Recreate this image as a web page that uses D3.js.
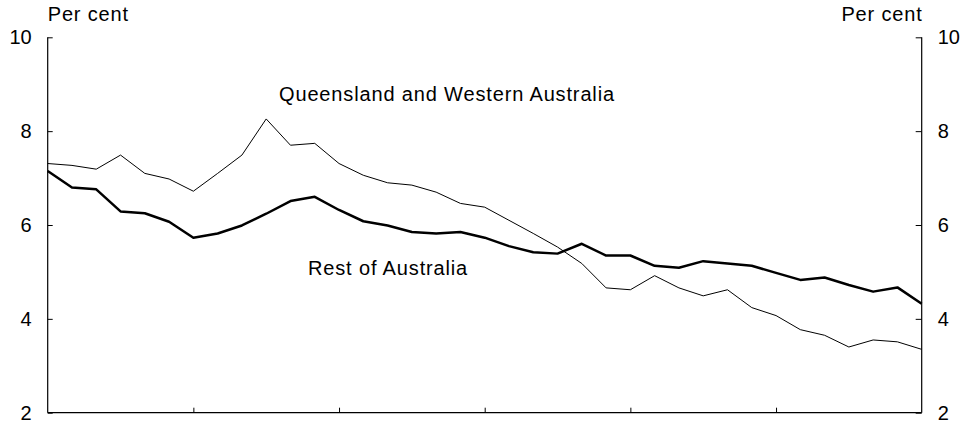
<!DOCTYPE html>
<html>
<head>
<meta charset="utf-8">
<script src="https://cdn.jsdelivr.net/npm/d3@7/dist/d3.min.js"></script>
<style>
  html, body { margin: 0; padding: 0; background: #fff; }
  svg { display: block; }
  text { font-family: "Liberation Sans", Arial, sans-serif; font-size: 20px; fill: #000; letter-spacing: 0.85px; }
  .tick text { letter-spacing: 0px; }
</style>
</head>
<body>
<svg id="chart" width="965" height="425"></svg>
<script>
// Data
const qldWa = [7.31,7.27,7.19,7.49,7.10,6.98,6.72,7.10,7.49,8.26,7.70,7.74,7.31,7.06,6.90,6.85,6.70,6.46,6.38,6.10,5.82,5.53,5.18,4.66,4.62,4.92,4.66,4.49,4.62,4.24,4.07,3.77,3.65,3.40,3.55,3.51,3.35];
const restAus = [7.15,6.80,6.76,6.29,6.25,6.07,5.73,5.82,5.99,6.24,6.51,6.60,6.32,6.08,5.99,5.85,5.82,5.85,5.73,5.55,5.42,5.39,5.60,5.35,5.35,5.13,5.09,5.23,5.18,5.13,4.98,4.83,4.88,4.72,4.58,4.67,4.32];
const periods = d3.range(qldWa.length);
const xTickValues = [6, 12, 18, 24, 30];
const yTickValues = [2, 4, 6, 8, 10];
const seriesNames = ["Queensland and Western Australia", "Rest of Australia"];
const unitLabel = "Per cent";

const svg = d3.select("#chart");
const pL = 47.7, pR = 921.7, pT = 37.3, pB = 412.7;

const x = d3.scaleLinear().domain([0, periods.length - 1]).range([pL, pR]);
const y = d3.scaleLinear().domain([2, 10]).range([pB, pT]);

// Axes
const gL = svg.append("g").attr("transform", `translate(${pL},0)`)
  .call(d3.axisLeft(y).tickValues(yTickValues).tickSize(-5).tickPadding(16).tickFormat(d3.format("d")));
const gR = svg.append("g").attr("transform", `translate(${pR},0)`)
  .call(d3.axisRight(y).tickValues(yTickValues).tickSize(-6).tickPadding(16).tickFormat(d3.format("d")));
const gB = svg.append("g").attr("transform", `translate(0,${pB})`)
  .call(d3.axisBottom(x).tickValues(xTickValues).tickSize(-5).tickFormat(""));

[gL, gR, gB].forEach(g => {
  g.select(".domain").attr("stroke", "#000").attr("stroke-width", 1.2);
  g.selectAll(".tick line").attr("stroke", "#000").attr("stroke-width", 1);
  g.selectAll(".tick text").attr("font-family", "Liberation Sans, Arial, sans-serif").attr("font-size", 20).attr("fill", "#000");
});
gL.select(".domain").attr("d", `M0,${pT}V${pB}`);
gR.select(".domain").attr("d", `M0,${pT}V${pB}`);
gB.select(".domain").attr("d", `M${pL},0H${pR}`);

// Lines
const line = d3.line().x((d, i) => x(periods[i])).y(d => y(d));
svg.append("path").datum(qldWa).attr("d", line)
  .attr("fill", "none").attr("stroke", "#000").attr("stroke-width", 1).attr("stroke-linejoin", "round");
svg.append("path").datum(restAus).attr("d", line)
  .attr("fill", "none").attr("stroke", "#000").attr("stroke-width", 2.5).attr("stroke-linejoin", "round");

// Labels
svg.append("text").attr("x", pL).attr("y", 21).text(unitLabel);
svg.append("text").attr("x", pR + 1).attr("y", 21).attr("text-anchor", "end").text(unitLabel);
svg.append("text").attr("x", 279).attr("y", 101).text(seriesNames[0]);
svg.append("text").attr("x", 308).attr("y", 275).text(seriesNames[1]);
</script>
</body>
</html>
